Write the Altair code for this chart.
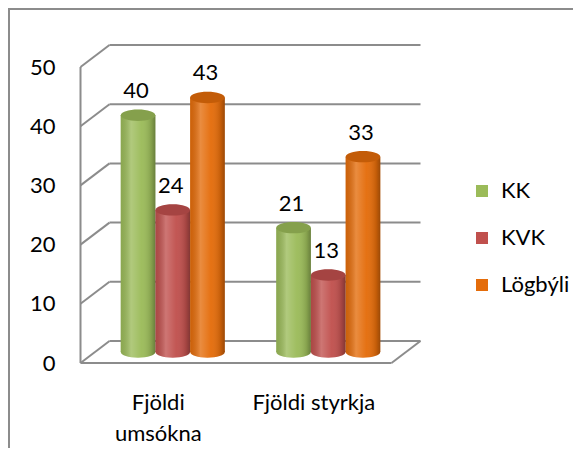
import altair as alt
import pandas as pd

# ---- data ----
categories = ["Fjöldi umsókna", "Fjöldi styrkja"]
series = ["KK", "KVK", "Lögbýli"]
kk_values = [40, 21]
kvk_values = [24, 13]
logbyli_values = [43, 33]
y_ticks = [0, 10, 20, 30, 40, 50]

rows = []
for i, c in enumerate(categories):
    for s, vals in zip(series, [kk_values, kvk_values, logbyli_values]):
        rows.append({"category": c, "series": s, "value": vals[i]})
df = pd.DataFrame(rows)
ticks_df = pd.DataFrame({"v": y_ticks})

# ---- styles ----
colors = ["#9BBB59", "#C0504D", "#E46C0A"]
FONT = "Lato"
FS = 22
W, H = 311, 296
DX, DY = 14.5, 11  # half depth of the 3D box (pixels)
GRID = "#8C8C8C"
ELLIPSE = "M -1 0 A 1 0.33 0 1 0 1 0 A 1 0.33 0 1 0 -1 0 Z"
BAR_SIZE = 1190

x_enc = alt.X("category:N", sort=categories,
              scale=alt.Scale(paddingInner=0, paddingOuter=0),
              axis=alt.Axis(title=None, domain=False, ticks=False,
                            labelAngle=0, labelFont=FONT, labelFontSize=FS,
                            labelColor="#000000", labelBaseline="alphabetic",
                            labelPadding=57, labelOffset=-DX, labelLineHeight=31,
                            labelExpr="datum.label == 'Fjöldi umsókna' ? ['Fjöldi', 'umsókna'] : datum.label"))
xo_enc = alt.XOffset("series:N", sort=series,
                     scale=alt.Scale(paddingInner=0, paddingOuter=0.74))
y_scale = alt.Scale(domain=[0, 50], nice=False)
y_enc = alt.Y("value:Q", scale=y_scale,
              axis=alt.Axis(title=None, values=y_ticks, domain=False, ticks=False,
                            grid=False, labelFont=FONT, labelFontSize=FS,
                            labelColor="#000000", labelPadding=40, labelOffset=DY))
color_enc = alt.Color("series:N", sort=series,
                      scale=alt.Scale(domain=series, range=colors),
                      legend=alt.Legend(title=None, orient="none", legendX=376, legendY=124,
                                        symbolType="square", symbolSize=144,
                                        symbolStrokeWidth=0, symbolOpacity=1,
                                        labelFont=FONT, labelFontSize=FS,
                                        labelColor="#000000", rowPadding=25,
                                        labelOffset=8))

shade = alt.Gradient(
    gradient="linear", x1=0, y1=0, x2=1, y2=0,
    stops=[
        alt.GradientStop(offset=0, color="rgba(0,0,0,0.10)"),
        alt.GradientStop(offset=0.3, color="rgba(255,255,255,0.22)"),
        alt.GradientStop(offset=0.6, color="rgba(255,255,255,0.04)"),
        alt.GradientStop(offset=0.88, color="rgba(0,0,0,0.14)"),
        alt.GradientStop(offset=1, color="rgba(0,0,0,0.32)"),
    ])

base = alt.Chart(df)

# frame of the 3D box
rules = alt.Chart(ticks_df)
back_grid = rules.mark_rule(color=GRID, strokeWidth=2, yOffset=-DY, y2Offset=-DY).encode(
    y=alt.Y("v:Q", scale=y_scale), y2="v:Q",
    x=alt.value(DX), x2=alt.value(W + DX))
wall_diag = rules.mark_rule(color=GRID, strokeWidth=2, yOffset=DY, y2Offset=-DY).encode(
    y=alt.Y("v:Q", scale=y_scale), y2="v:Q",
    x=alt.value(-DX), x2=alt.value(DX))
front_vert = rules.transform_aggregate(lo="min(v)", hi="max(v)").mark_rule(
    color=GRID, strokeWidth=2, yOffset=DY, y2Offset=DY).encode(
    y=alt.Y("lo:Q", scale=y_scale), y2="hi:Q", x=alt.value(-DX))
floor_front = rules.transform_aggregate(lo="min(v)").mark_rule(
    color=GRID, strokeWidth=2, yOffset=DY, y2Offset=DY).encode(
    y=alt.Y("lo:Q", scale=y_scale), y2="lo:Q",
    x=alt.value(-DX), x2=alt.value(W - DX))
floor_right = rules.transform_aggregate(lo="min(v)").mark_rule(
    color=GRID, strokeWidth=2, yOffset=DY, y2Offset=-DY).encode(
    y=alt.Y("lo:Q", scale=y_scale), y2="lo:Q",
    x=alt.value(W - DX), x2=alt.value(W + DX))

bottom_ell = base.mark_point(shape=ELLIPSE, filled=True, opacity=1, size=BAR_SIZE,
                             strokeWidth=0).encode(
    x=x_enc, xOffset=xo_enc, y=alt.datum(0, scale=y_scale), color=color_enc)
bottom_shade = base.mark_point(shape=ELLIPSE, filled=True, opacity=1, size=BAR_SIZE,
                               strokeWidth=0, fill=shade).encode(
    x=x_enc, xOffset=xo_enc, y=alt.datum(0, scale=y_scale))
bars = base.mark_bar().encode(x=x_enc, xOffset=xo_enc, y=y_enc, color=color_enc)
bars_shade = base.mark_bar(fill=shade).encode(x=x_enc, xOffset=xo_enc, y=y_enc)
top_ell = base.mark_point(shape=ELLIPSE, filled=True, opacity=1, size=BAR_SIZE,
                          strokeWidth=0).encode(
    x=x_enc, xOffset=xo_enc, y=y_enc, color=color_enc)
top_dark = base.mark_point(shape=ELLIPSE, filled=True, opacity=0.14, size=BAR_SIZE,
                           strokeWidth=0, color="#000000").encode(
    x=x_enc, xOffset=xo_enc, y=y_enc)
labels = base.mark_text(font=FONT, fontSize=FS, color="#000000", baseline="alphabetic",
                        dy=-17, dx=-2).encode(
    x=x_enc, xOffset=xo_enc, y=y_enc, text="value:Q")

# outer border (left and top edges visible)
border_left = rules.transform_aggregate(lo="min(v)").mark_rule(color=GRID, strokeWidth=2).encode(
    x=alt.value(-86), y=alt.value(-47), y2=alt.value(H + 200))
border_top = rules.transform_aggregate(lo="min(v)").mark_rule(color=GRID, strokeWidth=2).encode(
    x=alt.value(-87), x2=alt.value(W + 300), y=alt.value(-47))

chart = alt.layer(
    back_grid, wall_diag, front_vert, floor_front, floor_right,
    bottom_ell, bottom_shade, bars, bars_shade, top_ell, top_dark, labels,
    border_left, border_top,
).properties(
    width=W, height=H,
    autosize=alt.AutoSizeParams(type="none"),
    padding={"left": 87, "top": 48, "right": 167, "bottom": 96},
    background="#FFFFFF",
).configure_view(stroke=None)

chart.save("out.html", embed_options={"renderer": "svg", "actions": False})
